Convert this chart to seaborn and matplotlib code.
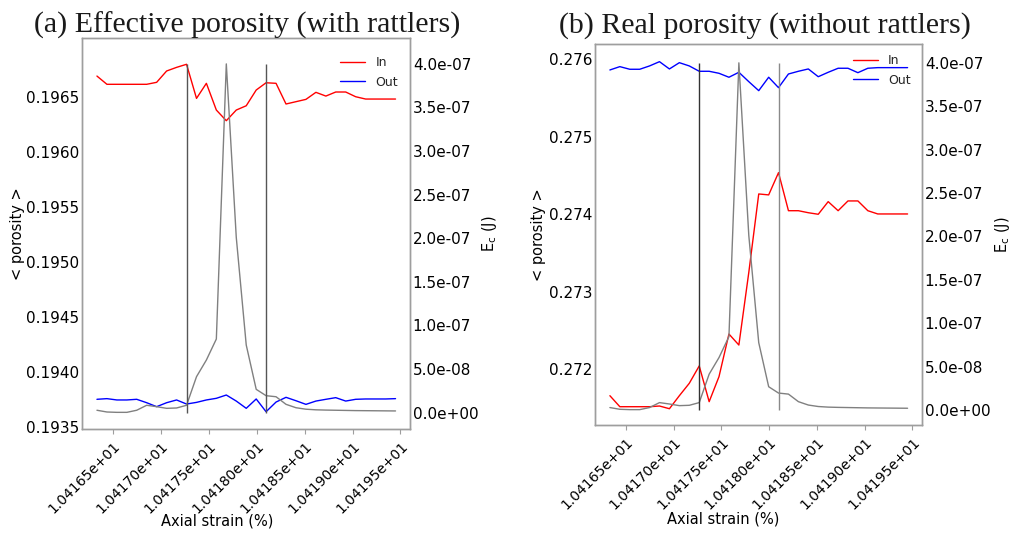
import matplotlib
matplotlib.use("Agg")
import matplotlib.pyplot as plt
import seaborn as sns
from matplotlib.ticker import FixedLocator, FormatStrFormatter

sns.set_theme(style="white")
plt.rcParams["font.family"] = ["DejaVu Sans"]
plt.rcParams["mathtext.fontset"] = "dejavusans"

# ---------------- data ----------------
strain = [10.416333, 10.416437, 10.416541, 10.416645, 10.416748, 10.416852,
          10.416956, 10.417060, 10.417164, 10.417268, 10.417372, 10.417475,
          10.417579, 10.417683, 10.417787, 10.417891, 10.417995, 10.418098,
          10.418202, 10.418306, 10.418410, 10.418514, 10.418618, 10.418722,
          10.418825, 10.418929, 10.419033, 10.419137, 10.419241, 10.419345,
          10.419449]

ec_energy = [2.8e-09, 0.8e-09, 0.4e-09, 0.4e-09, 2.8e-09, 8.5e-09, 6.9e-09,
             5.0e-09, 5.4e-09, 8.5e-09, 4.13e-08, 6.04e-08, 8.45e-08, 4.00e-07,
             2.01e-07, 7.76e-08, 2.68e-08, 1.95e-08, 1.83e-08, 9.6e-09, 5.7e-09,
             4.0e-09, 3.3e-09, 3.0e-09, 2.8e-09, 2.6e-09, 2.4e-09, 2.3e-09,
             2.2e-09, 2.1e-09, 2.0e-09]

event_strain = [10.417268, 10.418098]

eff_in = [0.196688, 0.196613, 0.196613, 0.196613, 0.196613, 0.196613, 0.196631,
          0.196734, 0.196767, 0.196795, 0.196485, 0.196622, 0.196379, 0.196282,
          0.196379, 0.196418, 0.196561, 0.196627, 0.196622, 0.196434, 0.196455,
          0.196476, 0.196540, 0.196506, 0.196543, 0.196543, 0.196500, 0.196479,
          0.196479, 0.196479, 0.196479]
eff_out = [0.193749, 0.193755, 0.193743, 0.193743, 0.193749, 0.193718, 0.193682,
           0.193718, 0.193743, 0.193706, 0.193721, 0.193743, 0.193758, 0.193788,
           0.193733, 0.193667, 0.193752, 0.193636, 0.193724, 0.193767, 0.193736,
           0.193703, 0.193733, 0.193749, 0.193764, 0.193733, 0.193749, 0.193752,
           0.193752, 0.193752, 0.193755]

real_in = [0.271659, 0.271517, 0.271517, 0.271517, 0.271517, 0.271526, 0.271491,
           0.271659, 0.271819, 0.272043, 0.271582, 0.271905, 0.272455, 0.272313,
           0.273250, 0.274262, 0.274250, 0.274537, 0.274046, 0.274046, 0.274020,
           0.274000, 0.274163, 0.274046, 0.274172, 0.274172, 0.274046, 0.274004,
           0.274004, 0.274004, 0.274004]
real_out = [0.275862, 0.275905, 0.275871, 0.275871, 0.275914, 0.275969, 0.275875,
            0.275956, 0.275914, 0.275845, 0.275845, 0.275819, 0.275768, 0.275832,
            0.275711, 0.275595, 0.275768, 0.275634, 0.275810, 0.275845, 0.275875,
            0.275775, 0.275832, 0.275884, 0.275884, 0.275827, 0.275884, 0.275892,
            0.275892, 0.275892, 0.275892]

strain_ticks = [10.4165, 10.4170, 10.4175, 10.4180, 10.4185, 10.4190, 10.4195]
eff_ticks = [0.1935, 0.1940, 0.1945, 0.1950, 0.1955, 0.1960, 0.1965]
real_ticks = [0.272, 0.273, 0.274, 0.275, 0.276]
ec_ticks = [0.0, 0.5e-07, 1.0e-07, 1.5e-07, 2.0e-07, 2.5e-07, 3.0e-07, 3.5e-07, 4.0e-07]

titles = ["(a) Effective porosity (with rattlers)", "(b) Real porosity (without rattlers)"]
xlabel = "Axial strain (%)"
ylabel_left = "< porosity >"
ylabel_right = r"E$_\mathrm{c}$ (J)"

# ---------------- figure ----------------
W, H = 1011, 538
fig = plt.figure(figsize=(W / 100, H / 100), dpi=100)
fig.patch.set_facecolor("white")

SPINE = "0.62"


def box(l, t, r, b):
    return [l / W, 1 - b / H, (r - l) / W, (b - t) / H]


def panel(rect, p_in, p_out, p_ticks, p_fmt, p_lim, e_lim, vcols,
          leg_anchor, xlab_xy, yl_x, yr_x):
    ax = fig.add_axes(rect)
    sns.lineplot(x=strain, y=p_in, ax=ax, color="#ff0000", linewidth=1.0, label="In")
    sns.lineplot(x=strain, y=p_out, ax=ax, color="#0000ff", linewidth=1.0, label="Out")
    ax.set_xlim(10.416177, 10.419600)
    ax.set_ylim(*p_lim)
    ax.xaxis.set_major_locator(FixedLocator(strain_ticks))
    ax.xaxis.set_major_formatter(FormatStrFormatter("%.5e"))
    ax.yaxis.set_major_locator(FixedLocator(p_ticks))
    ax.yaxis.set_major_formatter(FormatStrFormatter(p_fmt))
    ax.tick_params(axis="x", bottom=True, length=3.5, width=0.8, color=SPINE,
                   labelsize=10, pad=3.5, labelcolor="black")
    ax.tick_params(axis="y", left=True, length=0, labelsize=11, pad=2,
                   labelcolor="black")
    for lab in ax.get_xticklabels():
        lab.set_rotation(45)
        lab.set_ha("right")
        lab.set_rotation_mode("anchor")
    ax.set_xlabel(xlabel, fontsize=10.5, color="black")
    ax.xaxis.set_label_coords(*xlab_xy)
    ax.set_ylabel(ylabel_left, fontsize=10.5, color="black")
    ax.yaxis.set_label_coords(yl_x, 0.5)
    leg = ax.legend(loc="upper right", bbox_to_anchor=leg_anchor, borderaxespad=0,
                    frameon=False, fontsize=9, handlelength=2.0)
    for s in ax.spines.values():
        s.set_color(SPINE)
        s.set_linewidth(1.0)

    ax2 = ax.twinx()
    sns.lineplot(x=strain, y=ec_energy, ax=ax2, color="#808080", linewidth=1.0)
    ax2.vlines(event_strain, 0, max(ec_energy), colors=vcols, linewidth=1.0)
    ax2.set_ylim(*e_lim)
    ax2.yaxis.set_major_locator(FixedLocator(ec_ticks))
    ax2.yaxis.set_major_formatter(FormatStrFormatter("%.1e"))
    ax2.tick_params(axis="y", right=True, length=0, labelsize=11, pad=2,
                    labelcolor="black")
    ax2.set_ylabel(ylabel_right, fontsize=10.5, color="black")
    ax2.yaxis.set_label_coords(yr_x, 0.5)
    for s in ax2.spines.values():
        s.set_color(SPINE)
        s.set_linewidth(1.0)
    return ax, ax2


panel(box(82, 38, 410, 429), eff_in, eff_out, eff_ticks, "%.4f",
      (0.193479, 0.197034), (-0.187e-07, 4.297e-07), ["#555555", "#555555"],
      (0.9787, 0.9655), (0.4116, -0.217), -0.174, 1.213)

panel(box(595, 44, 922, 425), real_in, real_out, real_ticks, "%.3f",
      (0.271281, 0.276197), (-0.173e-07, 4.217e-07), ["#333333", "#8a8a8a"],
      (0.9807, 0.9856), (0.391, -0.228), -0.150, 1.217)

fig.text(247.5 / W, 1 - 33 / H, titles[0], ha="center", va="baseline",
         family="Liberation Serif", fontsize=21.5, color="#1a1a1a")
fig.text(765 / W, 1 - 33 / H, titles[1], ha="center", va="baseline",
         family="Liberation Serif", fontsize=21.5, color="#1a1a1a")

fig.savefig("out.png", dpi=100, facecolor="white")
